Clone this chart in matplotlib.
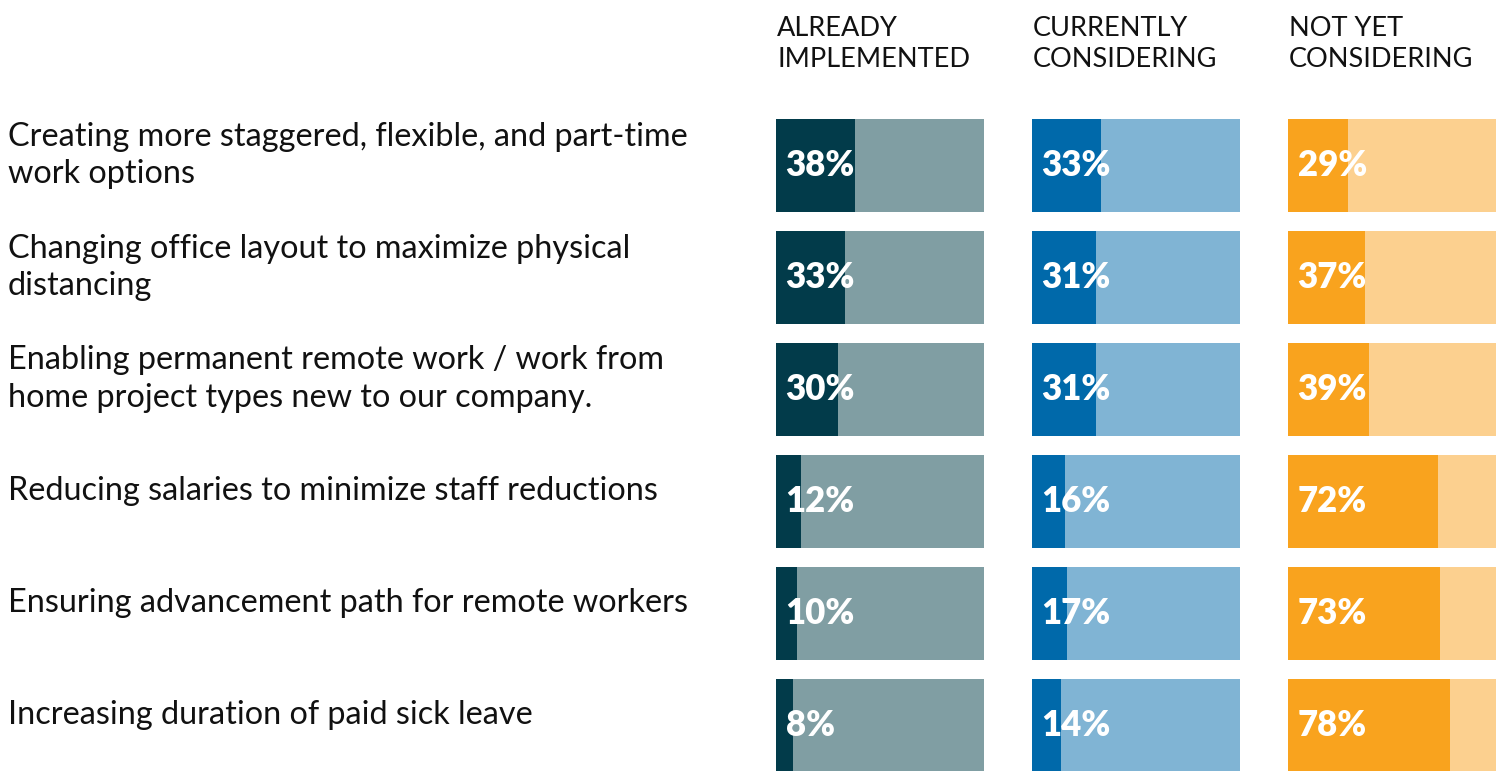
import matplotlib
matplotlib.use("Agg")
import matplotlib.pyplot as plt
import matplotlib.transforms as mtransforms

categories = [
    "Creating more staggered, flexible, and part-time\nwork options",
    "Changing office layout to maximize physical\ndistancing",
    "Enabling permanent remote work / work from\nhome project types new to our company.",
    "Reducing salaries to minimize staff reductions",
    "Ensuring advancement path for remote workers",
    "Increasing duration of paid sick leave",
]
series_names = ["ALREADY\nIMPLEMENTED", "CURRENTLY\nCONSIDERING", "NOT YET\nCONSIDERING"]
already_implemented = [38, 33, 30, 12, 10, 8]
currently_considering = [33, 31, 31, 16, 17, 14]
not_yet_considering = [29, 37, 39, 72, 73, 78]

series = [already_implemented, currently_considering, not_yet_considering]
dark_colors = ["#023b4a", "#0069aa", "#f9a31e"]
light_colors = ["#809ea3", "#80b4d4", "#fcd08f"]

FONT = "Lato"
W, H = 1501, 771
fig = plt.figure(figsize=(W / 100, H / 100), dpi=100)

col_left = [776, 1032, 1288]
col_w = 208
top_px, bot_px = 119, 771.5
n = len(categories)
pitch = 112
bar_h = 93 / pitch

axes = []
for j, (vals, dc, lc) in enumerate(zip(series, dark_colors, light_colors)):
    ax = fig.add_axes([col_left[j] / W, 1 - bot_px / H, col_w / W, (bot_px - top_px) / H])
    ys = list(range(n))
    ax.barh(ys, [100] * n, height=bar_h, color=lc, left=0)
    ax.barh(ys, vals, height=bar_h, color=dc, left=0)
    ax.set_xlim(0, 100)
    ax.set_ylim(n - 1 + bar_h / 2, -bar_h / 2)
    ax.axis("off")
    for y, v in zip(ys, vals):
        ax.text(4.6, y, f"{v}%", color="white", fontsize=25, fontweight="heavy",
                family=FONT, va="center", ha="left")
    fig.text((col_left[j] + 1) / W, 1 - 44 / H, series_names[j], fontsize=19.5,
             family=FONT, va="center", ha="left", color="#111111", linespacing=1.3)
    axes.append(ax)

ax0 = axes[0]
trans = mtransforms.blended_transform_factory(fig.transFigure, ax0.transData)
trans = mtransforms.offset_copy(trans, fig=fig, x=0, y=10 / 100 * 72, units="points")
for y, cat in enumerate(categories):
    fig.text(8 / W, y, cat, transform=trans, fontsize=23.3, family=FONT,
             va="center", ha="left", color="#111111", linespacing=1.32)

fig.savefig("out.png", dpi=100)
